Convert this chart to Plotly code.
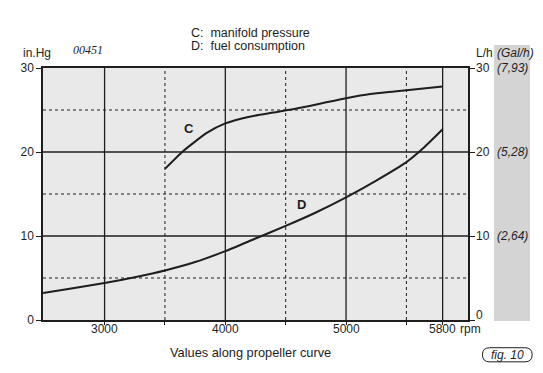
import plotly.graph_objects as go

# Curve C: manifold pressure (in.Hg)
rpm_c = [3500, 3650, 3850, 4000, 4200, 4400, 4600, 4800, 5000, 5200, 5400, 5600, 5800]
press_c = [18.0, 20.1, 22.3, 23.4, 24.2, 24.7, 25.2, 25.8, 26.4, 26.9, 27.2, 27.5, 27.8]

# Curve D: fuel consumption (L/h)
rpm_d = [2490, 2750, 3000, 3250, 3500, 3750, 4000, 4250, 4500, 4750, 5000, 5250, 5500, 5650, 5800]
fuel_d = [3.2, 3.8, 4.4, 5.1, 5.9, 6.9, 8.2, 9.7, 11.2, 12.8, 14.6, 16.6, 18.8, 20.6, 22.7]

x_major = [3000, 4000, 5000, 5800]
x_major_text = ["3000", "4000", "5000", "5800"]
x_minor = [3500, 4500, 5500]
y_major = [0, 10, 20, 30]
y_major_text = ["0", "10", "20", "30"]
y_grid_major = [10, 20]
y_minor = [5, 15, 25]
gal_labels = ["(7,93)", "(5,28)", "(2,64)"]
gal_values = [30, 20, 10]

FONT = "Liberation Sans, Arial, Helvetica, sans-serif"
INK = "#1e1e1e"
OFF = 8  # page body margin offset

fig = go.Figure()
fig.add_trace(go.Scatter(x=rpm_c, y=press_c, mode="lines",
                         line=dict(color=INK, width=2, shape="spline", smoothing=0.6),
                         yaxis="y", showlegend=False, hoverinfo="skip"))
fig.add_trace(go.Scatter(x=rpm_d, y=fuel_d, mode="lines",
                         line=dict(color=INK, width=2, shape="spline", smoothing=0.6),
                         yaxis="y2", showlegend=False, hoverinfo="skip"))

axis_common = dict(showline=True, linecolor=INK, linewidth=1.5, zeroline=False,
                   tickwidth=1, tickcolor=INK, showgrid=False,
                   tickfont=dict(family=FONT, size=12, color=INK))

fig.update_layout(
    width=543 - OFF, height=373 - OFF,
    margin=dict(l=43 - OFF, r=75, t=68 - OFF, b=53),
    paper_bgcolor="white", plot_bgcolor="#e9e9e9",
    showlegend=False,
    xaxis=dict(range=[2490, 6010], tickvals=x_major + x_minor, showticklabels=False,
               ticks="outside", ticklen=3, mirror=True, **axis_common),
    yaxis=dict(range=[0, 30], tickvals=y_major, ticks="outside", ticklen=5,
               mirror=True, **axis_common),
    yaxis2=dict(range=[0, 30], tickvals=y_major, overlaying="y", side="right",
                anchor="x", ticks="outside", ticklen=5, showticklabels=False,
                **axis_common),
)

# grid lines
for v in x_major:
    fig.add_shape(type="line", xref="x", yref="paper", x0=v, x1=v, y0=0, y1=1,
                  line=dict(color=INK, width=1.3), layer="below")
for v in x_minor:
    fig.add_shape(type="line", xref="x", yref="paper", x0=v, x1=v, y0=0, y1=1,
                  line=dict(color=INK, width=1, dash="dot"), layer="below")
for v in y_grid_major:
    fig.add_shape(type="line", xref="paper", yref="y", x0=0, x1=1, y0=v, y1=v,
                  line=dict(color=INK, width=1.3), layer="below")
for v in y_minor:
    fig.add_shape(type="line", xref="paper", yref="y", x0=0, x1=1, y0=v, y1=v,
                  line=dict(color=INK, width=1, dash="dot"), layer="below")

# grey strip for Gal/h
fig.add_shape(type="rect", xref="paper", yref="paper", x0=1.061, x1=1.146,
              y0=-0.004, y1=1.091, fillcolor="#d4d4d4", line=dict(width=0), layer="below")

# fig. 10 pill
x1, x2, yt, yb = 1.034, 1.151, -0.110, -0.166
ym = (yt + yb) / 2
r = 0.017
path = (f"M {x1+r},{yt} L {x2-r},{yt} Q {x2},{yt} {x2},{ym} Q {x2},{yb} {x2-r},{yb} "
        f"L {x1+r},{yb} Q {x1},{yb} {x1},{ym} Q {x1},{yt} {x1+r},{yt} Z")
fig.add_shape(type="path", xref="paper", yref="paper", path=path,
              line=dict(color=INK, width=1), fillcolor="white")

def ann(text, x, y, xanchor="left", size=12, italic=False, family=FONT, bold=False,
        xref="paper", yref="paper", yanchor="middle", yshift=0):
    t = text
    if italic:
        t = f"<i>{t}</i>"
    if bold:
        t = f"<b>{t}</b>"
    fig.add_annotation(text=t, x=x, y=y, xref=xref, yref=yref, showarrow=False,
                       xanchor=xanchor, yanchor=yanchor, yshift=yshift,
                       font=dict(family=family, size=size, color=INK))

W = 425.0
H = 252.0
def px(xp):
    return (xp - 43) / W
def py(yp):
    return (320 - yp) / H

# x tick labels
for v, t in zip(x_major, x_major_text):
    ann(t, v, py(329), xanchor="center", xref="x")
ann("rpm", px(458), py(329))

# right axis tick labels (0 sits raised above the axis corner)
for v, t in zip(y_major, y_major_text):
    ann(t, px(474), v, yref="y", yshift=5 if v == 0 else 0)

ann("C:&nbsp;&nbsp;manifold pressure", px(189), py(33), size=12.5)
ann("D:&nbsp;&nbsp;fuel consumption", px(189), py(46), size=12.5)
ann("in.Hg", px(21), py(53))
ann("00451", px(71), py(50), italic=True, family="Liberation Serif, Times New Roman, serif")
ann("L/h", px(474), py(53))
ann("(Gal/h)", px(495), py(53), italic=True)
for lab, v in zip(gal_labels, gal_values):
    ann(lab, px(495), v, yref="y", italic=True)
ann("Values along propeller curve", px(250), py(352), xanchor="center", size=12.8)
ann("fig. 10", px(507.5), py(355), xanchor="center", italic=True)

# curve labels
ann("C", 3700, 22.8, xanchor="center", bold=True, xref="x", yref="y", size=13)
ann("D", 4633, 13.7, xanchor="center", bold=True, xref="x", yref="y", size=13)

fig.write_html("out.html")
